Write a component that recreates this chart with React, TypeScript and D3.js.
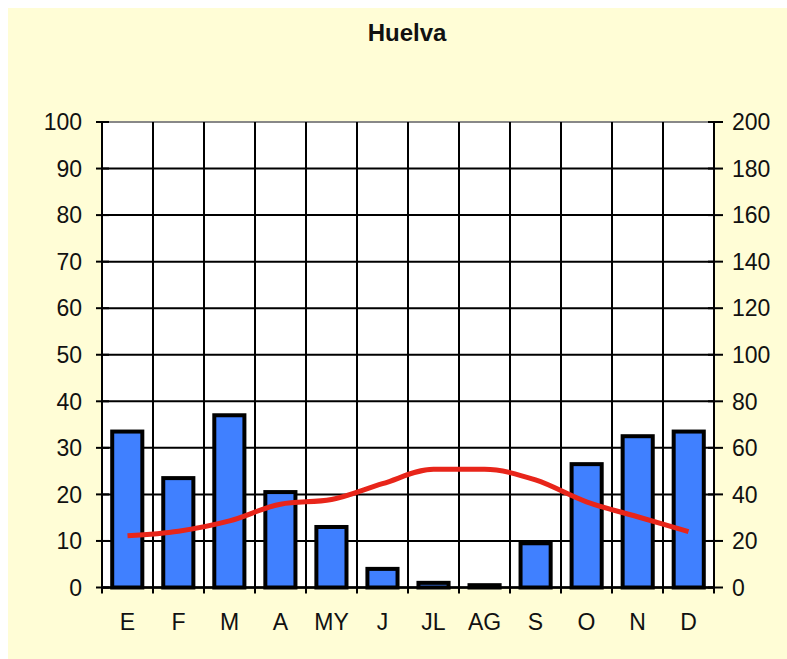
import React, { useLayoutEffect } from 'react';
import * as d3 from 'd3';

const months = ['E', 'F', 'M', 'A', 'MY', 'J', 'JL', 'AG', 'S', 'O', 'N', 'D'];
// precipitation (mm), right axis
const precipitation = [67, 47, 74, 41, 26, 8, 2, 1, 19, 53, 65, 67];
// temperature (ºC), left axis
const temperature = [11.1, 12.1, 14.3, 17.9, 18.9, 22.3, 25.4, 25.4, 23.1, 18.4, 15.2, 12.0];
const leftTicks = [0, 10, 20, 30, 40, 50, 60, 70, 80, 90, 100];
const rightTicks = [0, 20, 40, 60, 80, 100, 120, 140, 160, 180, 200];

const PW = 787;
const PH = 659;
const W = 779;
const H = 651;
const margin = { top: 114, right: 73, bottom: 71.5, left: 94 };
const font = '"Liberation Sans", Arial, sans-serif';

export default function App() {
  useLayoutEffect(() => {
    document.body.style.margin = '0';
    document.body.style.overflow = 'hidden';
  }, []);

  const innerW = W - margin.left - margin.right;
  const innerH = H - margin.top - margin.bottom;

  const x = d3.scaleBand<string>().domain(months).range([0, innerW]);
  const barX = d3.scaleBand<string>().domain(months).range([0, innerW]).paddingInner(0.41).paddingOuter(0.2);
  const yLeft = d3.scaleLinear().domain([0, 100]).range([innerH, 0]);
  const yRight = d3.scaleLinear().domain([0, 200]).range([innerH, 0]);

  const line = d3
    .line<number>()
    .x((_, i) => (x(months[i]) as number) + x.bandwidth() / 2)
    .y((d) => yLeft(d))
    .curve(d3.curveMonotoneX);

  const bounds = months.map((m) => x(m) as number).concat([innerW]);

  return (
    <svg width={PW} height={PH} style={{ display: 'block' }}>
      <rect width={PW} height={PH} fill="#fff" />
      <g transform="translate(8,8)">
        <rect width={W} height={H} fill="#FFFDD6" />
        <text x={399} y={33} textAnchor="middle" fontFamily={font} fontWeight="bold" fontSize={24} fill="#111">
          Huelva
        </text>
        <g transform={`translate(${margin.left},${margin.top})`}>
          <rect width={innerW} height={innerH} fill="#fff" />
          {/* grid */}
          {leftTicks.map((t) => (
            <line key={'h' + t} x1={0} x2={innerW} y1={yLeft(t)} y2={yLeft(t)} stroke={t === 100 ? '#888' : '#000'} strokeWidth={2} />
          ))}
          {bounds.map((b, i) => (
            <line key={'v' + i} x1={b} x2={b} y1={0} y2={innerH} stroke="#000" strokeWidth={2} />
          ))}
          {/* bars */}
          {precipitation.map((p, i) => (
            <rect
              key={'b' + i}
              x={barX(months[i])}
              y={yRight(p)}
              width={barX.bandwidth()}
              height={innerH - yRight(p)}
              fill="#4080FF"
              stroke="#000"
              strokeWidth={4}
            />
          ))}
          {/* temperature line */}
          <path d={line(temperature) || ''} fill="none" stroke="#E8251A" strokeWidth={5} strokeLinejoin="round" />
          {/* axes */}
          <line x1={0} x2={0} y1={0} y2={innerH} stroke="#000" strokeWidth={2} />
          <line x1={innerW} x2={innerW} y1={0} y2={innerH} stroke="#000" strokeWidth={2} />
          <line x1={0} x2={innerW} y1={innerH} y2={innerH} stroke="#000" strokeWidth={2.5} />
          {leftTicks.map((t) => (
            <g key={'lt' + t}>
              <line x1={-6} x2={7} y1={yLeft(t)} y2={yLeft(t)} stroke="#000" strokeWidth={2} />
              <text x={-20} y={yLeft(t)} dy="0.36em" textAnchor="end" fontFamily={font} fontSize={23} fill="#111">
                {t}
              </text>
            </g>
          ))}
          {rightTicks.map((t) => (
            <g key={'rt' + t}>
              <line x1={innerW - 6} x2={innerW + 9} y1={yRight(t)} y2={yRight(t)} stroke="#000" strokeWidth={2} />
              <text x={innerW + 18} y={yRight(t)} dy="0.36em" textAnchor="start" fontFamily={font} fontSize={23} fill="#111">
                {t}
              </text>
            </g>
          ))}
          {bounds.map((b, i) => (
            <line key={'bt' + i} x1={b} x2={b} y1={innerH} y2={innerH + 6} stroke="#000" strokeWidth={2} />
          ))}
          {months.map((m) => (
            <text
              key={'m' + m}
              x={(x(m) as number) + x.bandwidth() / 2}
              y={innerH + 42.5}
              textAnchor="middle"
              fontFamily={font}
              fontSize={23}
              fill="#111"
            >
              {m}
            </text>
          ))}
        </g>
      </g>
    </svg>
  );
}
